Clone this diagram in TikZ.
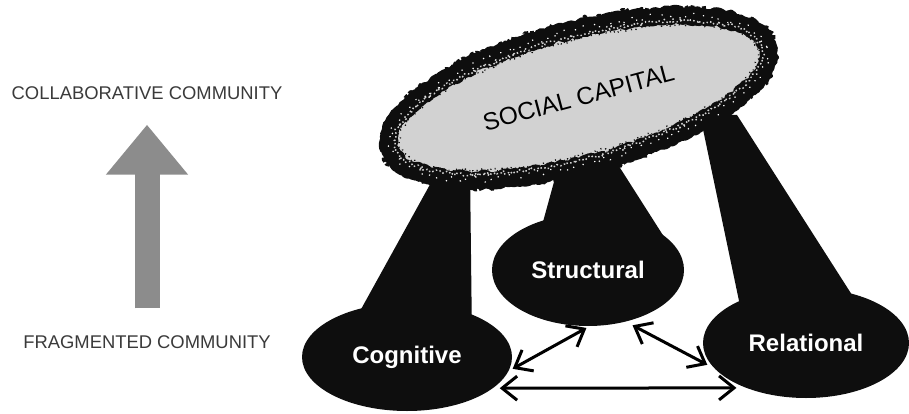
\documentclass[tikz,border=0pt]{standalone}
\usepackage{fontspec}
\setmainfont{Liberation Sans}
\usetikzlibrary{arrows.meta,shapes.geometric,decorations.pathmorphing}
\definecolor{capfill}{HTML}{D2D2D2}
\definecolor{inkblack}{HTML}{0E0E0E}
\definecolor{arrowgray}{HTML}{8C8C8C}
\definecolor{labelgray}{HTML}{3A3A3A}
\tikzset{
  dim/.style={ellipse, fill=inkblack, text=white, inner sep=0pt, outer sep=0pt,
    font=\fontsize{24}{24}\selectfont\bfseries},
  link/.style={line width=3pt,
    {Straight Barb[length=15pt,width=24pt]}-{Straight Barb[length=15pt,width=24pt]}},
  scalelabel/.style={text=labelgray, inner sep=0pt, font=\fontsize{18.4}{20}\selectfont},
  rough/.style 2 args={decorate, decoration={random steps, segment length=#1, amplitude=#2}}
}
\begin{document}
\begin{tikzpicture}[x=1pt,y=-1pt,line join=round]
  \useasboundingbox (0,0) rectangle (909,414);
  \fill[inkblack] (438,170) -- (470,170) -- (472,340) -- (344,340) -- cycle;
  \fill[inkblack] (560,160) -- (615,160) -- (666,240) -- (538,240) -- cycle;
  \fill[inkblack] (700,115) -- (737,115) -- (868,320) -- (743,320) -- cycle;
  \node[dim, minimum width=210pt, minimum height=108pt] (cognitive) at (407,357) {Cognitive};
  \node[dim, minimum width=192pt, minimum height=112pt] (structural) at (588,270) {Structural};
  \node[dim, minimum width=206pt, minimum height=110pt] (relational) at (806,343) {Relational};
  \node[ellipse, fill=capfill, inner sep=0pt, minimum width=378pt, minimum height=120pt,
    rotate=15, font=\fontsize{24.5}{24.5}\selectfont] (capital) at (578.5,97.5)
    {\raisebox{-4pt}{SOCIAL CAPITAL}};
  \begin{scope}[shift={(capital.center)}, rotate=15]
    \draw[inkblack, line width=17pt, rough={2.5pt}{2pt}] (0,0) ellipse [x radius=196pt, y radius=67pt];
    \draw[inkblack, line width=4pt, dash pattern=on 4pt off 2pt, rough={4pt}{3.5pt}]
      (0,0) ellipse [x radius=203pt, y radius=74pt];
    \draw[capfill, line width=1.5pt, dash pattern=on 1.5pt off 2.5pt, rough={2pt}{2pt}]
      (0,0) ellipse [x radius=190pt, y radius=61pt];
    \draw[white, line width=1.2pt, dash pattern=on 1.2pt off 11pt, rough={3pt}{4pt}]
      (0,0) ellipse [x radius=195pt, y radius=66pt];
    \draw[inkblack, line width=1.5pt, dash pattern=on 1pt off 4pt, rough={2pt}{2pt}]
      (0,0) ellipse [x radius=186pt, y radius=57pt];
  \end{scope}
  \draw[link, shorten <=5pt, shorten >=4pt] (cognitive.-8) -- (structural.-88);
  \draw[link, shorten <=8pt, shorten >=9pt] (structural.-54) -- (relational.196);
  \draw[link, shorten <=7pt, shorten >=10pt] (cognitive.-20) -- (relational.217);
  \node[scalelabel] (collab) at (147,93) {COLLABORATIVE COMMUNITY};
  \node[scalelabel] (fragment) at (147,342) {FRAGMENTED COMMUNITY};
  \draw[arrowgray, line width=25pt, -{Triangle[length=50pt,width=79pt]},
    shorten <=27pt, shorten >=25pt] (fragment) -- (collab);
\end{tikzpicture}
\end{document}
